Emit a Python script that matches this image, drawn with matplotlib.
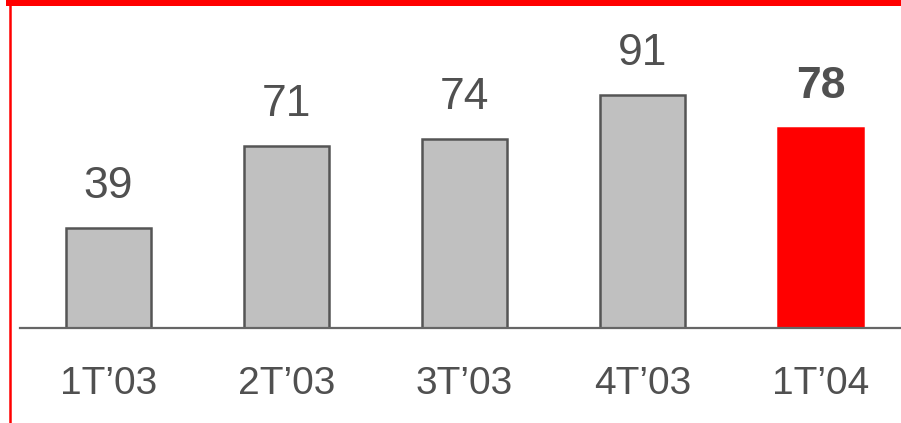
import matplotlib
matplotlib.use("Agg")
import matplotlib.pyplot as plt
from matplotlib.patches import Rectangle
from matplotlib.lines import Line2D

# datos
quarters = ["1T\u201903", "2T\u201903", "3T\u201903", "4T\u201903", "1T\u201904"]
values = [39, 71, 74, 91, 78]
highlight = [False, False, False, False, True]

plt.rcParams['font.family'] = ['Liberation Sans', 'DejaVu Sans']
text_color = "#505050"

W, H = 901, 423
fig = plt.figure(figsize=(W / 100, H / 100), dpi=100)

# ejes: baseline at 328 px from top, 2.56 px per unit
ax = fig.add_axes([20 / W, (H - 328) / H, 881 / W, 256 / H])
x = list(range(len(values)))
colors = ["#ff0000" if h else "#c0c0c0" for h in highlight]
edges = ["#ff0000" if h else "#555555" for h in highlight]
bars = ax.bar(x, values, width=0.478, color=colors, edgecolor=edges, linewidth=1.8, zorder=2)

ax.set_ylim(0, 100)
ax.set_xlim((20 - 108.5) / 178, (901 - 108.5) / 178)

for i, b in enumerate(bars):
    ax.annotate(str(values[i]), (b.get_x() + b.get_width() / 2, values[i]),
                xytext=(0, 15), textcoords="offset points", ha="center", va="bottom",
                fontsize=32, color=text_color,
                fontweight="bold" if highlight[i] else "normal", annotation_clip=False)

ax.set_xticks(x)
ax.set_xticklabels(quarters, fontsize=28, color=text_color)
ax.tick_params(axis="x", length=0, pad=27)
ax.set_yticks([])
for s in ["top", "left", "right"]:
    ax.spines[s].set_visible(False)
ax.spines["bottom"].set_color("#666666")
ax.spines["bottom"].set_linewidth(1.6)
ax.patch.set_alpha(0)

# marco rojo
fig.add_artist(Rectangle((6 / W, (H - 6) / H), 1.0, 6 / H,
                         transform=fig.transFigure, color="#ff0000", lw=0))
fig.add_artist(Line2D([9.5 / W, 9.5 / W], [0, (H - 6) / H],
                      transform=fig.transFigure, color="#ff0000", lw=1.8))

fig.savefig("out.png", dpi=100)
